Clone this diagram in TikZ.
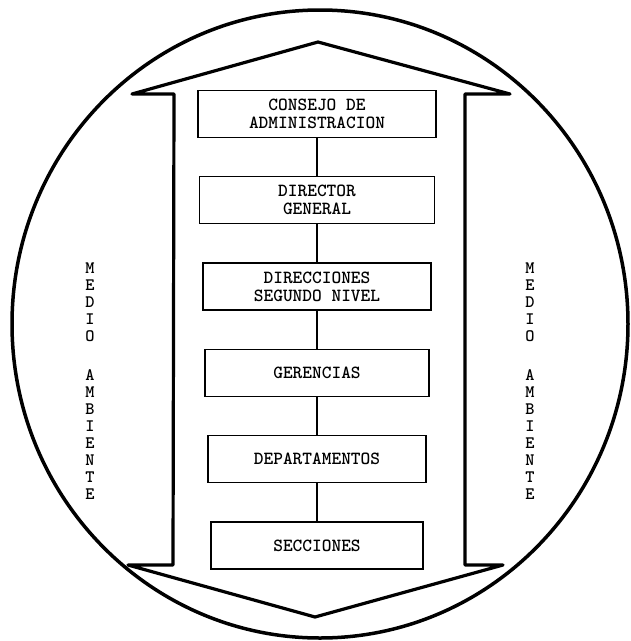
\documentclass[tikz,border=0pt]{standalone}
\usetikzlibrary{positioning}
\tikzset{
  mabox/.style={rectangle, draw=black, line width=1.3pt, fill=white,
                font=\fontsize{18.5}{18}\selectfont\ttfamily\bfseries, align=center,
                minimum height=47pt, inner sep=2pt},
  maflow/.style={line width=1.3pt, color=black},
  maletra/.style={font=\fontsize{17.5}{17}\selectfont\ttfamily\bfseries, align=center, inner sep=0pt},
}
\begin{document}
\begin{tikzpicture}[x=1pt, y=-1pt, node distance=38pt]
  \useasboundingbox (0,0) rectangle (631,641);
  % medio ambiente
  \draw[line width=3.5pt] (320,324) ellipse [x radius=308, y radius=314];
  % flecha doble
  \draw[line width=3.2pt, line join=round]
    (174,94) -- (132,94) -- (318,42) -- (510,94) -- (465,94) -- (465,565)
    -- (503,565) -- (315,617) -- (128,565) -- (173,565) -- cycle;
  \node[mabox, minimum width=238pt](consejo) at (317,114){CONSEJO DE\\ADMINISTRACION};
  \node[mabox, minimum width=235pt, below=of consejo](director){DIRECTOR\\GENERAL};
  \node[mabox, minimum width=228pt, below=of director](direcciones){DIRECCIONES\\SEGUNDO NIVEL};
  \node[mabox, minimum width=224pt, below=of direcciones](gerencias){GERENCIAS};
  \node[mabox, minimum width=218pt, below=of gerencias](deptos){DEPARTAMENTOS};
  \node[mabox, minimum width=212pt, below=of deptos](secciones){SECCIONES};
  \node[maletra](medioizq) at (90,381){M\\E\\D\\I\\O\\[22pt]A\\M\\B\\I\\E\\N\\T\\E};
  \node[maletra](medioder) at (530,381){M\\E\\D\\I\\O\\[22pt]A\\M\\B\\I\\E\\N\\T\\E};
  \draw[maflow](consejo)--(director);
  \draw[maflow](director)--(direcciones);
  \draw[maflow](direcciones)--(gerencias);
  \draw[maflow](gerencias)--(deptos);
  \draw[maflow](deptos)--(secciones);
\end{tikzpicture}
\end{document}
